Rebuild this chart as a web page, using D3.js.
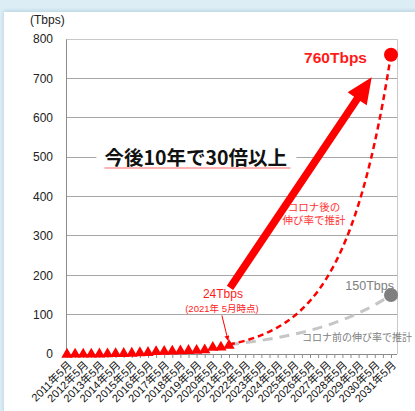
<!DOCTYPE html>
<html><head><meta charset="utf-8">
<script src="https://cdn.jsdelivr.net/npm/d3@7"></script>
<style>
html,body{margin:0;padding:0;background:#dcedf5;}
svg{display:block;font-family:"Liberation Sans","Noto Sans CJK JP",sans-serif;}
</style></head>
<body>
<svg id="c" width="415" height="411"></svg>
<script>
// ---- data ----
const periods = ["2011年5月","2011年11月","2012年5月","2012年11月","2013年5月","2013年11月","2014年5月","2014年11月",
"2015年5月","2015年11月","2016年5月","2016年11月","2017年5月","2017年11月","2018年5月","2018年11月",
"2019年5月","2019年11月","2020年5月","2020年11月","2021年5月","2021年11月","2022年5月","2022年11月",
"2023年5月","2023年11月","2024年5月","2024年11月","2025年5月","2025年11月","2026年5月","2026年11月",
"2027年5月","2027年11月","2028年5月","2028年11月","2029年5月","2029年11月","2030年5月","2030年11月","2031年5月"];
const measuredPeriods = periods.slice(0, 21);
const measured = [1.6,1.7,1.9,2.0,2.3,2.6,3.0,3.5,4.0,5.4,6.0,8.2,8.9,9.4,10.3,11.0,11.5,12.7,19.0,19.8,24];
const forecastPeriods = periods.slice(20);
const postCovid = [24,28.5,33.9,40.3,47.9,56.9,67.7,80.4,95.6,113.6,135.1,160.5,190.8,226.8,269.6,320.4,380.9,452.7,538.1,639.6,760];
const preCovid = [24,26.3,28.8,31.6,34.7,38.0,41.6,45.6,50.0,54.8,60.0,65.8,72.1,79.0,86.6,94.9,104.0,114.0,124.9,136.9,150];
const yTicks = [0,100,200,300,400,500,600,700,800];

// ---- layout ----
const svg = d3.select("#c");
const L = 66, R = 397, T = 39, B = 354;

// panel
const defs = svg.append("defs");
const f = defs.append("filter").attr("id","sh").attr("x","-5%").attr("y","-5%").attr("width","110%").attr("height","110%");
f.append("feDropShadow").attr("dx",0).attr("dy",-1).attr("stdDeviation",2).attr("flood-color","#9fc3d3").attr("flood-opacity",0.7);
svg.append("rect").attr("width",415).attr("height",411).attr("fill","#dcedf5");
svg.append("rect").attr("x",4).attr("y",12).attr("width",420).attr("height",420).attr("fill","#fff").attr("filter","url(#sh)");

const x = d3.scalePoint().domain(periods).range([67, 391]);
const y = d3.scaleLinear().domain([0, 800]).range([B, T]);

// gridlines
svg.append("g").selectAll("line").data(yTicks.filter(d => d > 0 && d < 800)).join("line")
  .attr("x1", L).attr("x2", R).attr("y1", d => y(d)).attr("y2", d => y(d))
  .attr("stroke", "#a6a6a6").attr("stroke-width", 1).attr("shape-rendering","crispEdges");
// border top/right
svg.append("path").attr("d", `M${L},${y(800)}H${R}V${B}`).attr("fill","none")
  .attr("stroke","#c8c8c8").attr("stroke-width",1).attr("shape-rendering","crispEdges");

// y axis
const yAxis = d3.axisLeft(y).tickValues(yTicks).tickSize(0).tickPadding(13);
const gy = svg.append("g").attr("transform", `translate(${L},0)`).call(yAxis);
gy.select(".domain").attr("stroke","#8c8c8c");
gy.selectAll("text").attr("font-size", 12).attr("fill","#222").attr("font-family","Liberation Sans, sans-serif");
svg.append("text").attr("x", 30).attr("y", 24).attr("font-size", 12).attr("fill","#222").text("(Tbps)");

// x axis
const xAxis = d3.axisBottom(x).tickSize(4).tickFormat(() => "");
const gx = svg.append("g").attr("transform", `translate(0,${B})`).call(xAxis);
gx.select(".domain").attr("d", `M${L},0.5H${R}`).attr("stroke","#8c8c8c");
gx.selectAll(".tick line").attr("stroke","#8c8c8c");
svg.append("g").selectAll("text").data(periods.filter(p => p.endsWith("年5月"))).join("text")
  .attr("transform", d => `translate(${x(d) + 3},${B + 9}) rotate(-45)`)
  .attr("text-anchor","end").attr("dy","0.35em")
  .attr("font-size", 11).attr("fill","#111").text(d => d);

// headline text box
const hx = x(periods[4]) + 5, hy = y(480);
const head = svg.append("g");
head.append("rect").attr("x", hx - 8).attr("y", hy - 19).attr("width", 200).attr("height", 25).attr("fill","#fff");
head.append("text").attr("x", hx).attr("y", hy).attr("font-size", 19.5).attr("font-weight","bold")
  .attr("fill","#111").attr("font-family","Noto Sans CJK JP, sans-serif").text("今後10年で30倍以上");
head.append("line").attr("x1", hx).attr("x2", hx + 186).attr("y1", hy + 3).attr("y2", hy + 3)
  .attr("stroke","#ff6b6b").attr("stroke-width",1.2);

// forecast lines
const line = d3.line().x(d => x(d[0])).y(d => y(d[1])).curve(d3.curveMonotoneX);
svg.append("path").datum(forecastPeriods.map((p,i) => [p, preCovid[i]]))
  .attr("d", line).attr("fill","none").attr("stroke","#c6c6c6").attr("stroke-width",3)
  .attr("stroke-dasharray","10,7");
svg.append("path").datum(forecastPeriods.map((p,i) => [p, postCovid[i]]))
  .attr("d", line).attr("fill","none").attr("stroke","#ff0000").attr("stroke-width",2.5)
  .attr("stroke-dasharray","6,4");

// measured triangles
svg.append("g").selectAll("path").data(measuredPeriods.map((p,i) => [p, measured[i]])).join("path")
  .attr("d", d3.symbol(d3.symbolTriangle, 56))
  .attr("transform", d => `translate(${x(d[0])},${y(d[1]) + 1})`).attr("fill","#ff0000");

// end circles
const last = periods[periods.length - 1];
svg.append("circle").attr("cx", x(last)).attr("cy", y(postCovid[20])).attr("r", 7).attr("fill","#ff0000");
svg.append("circle").attr("cx", x(last)).attr("cy", y(preCovid[20])).attr("r", 7).attr("fill","#7f7f7f");

// big arrow (data coords)
const ax0 = x(periods[20]) + 1, ay0 = y(168), ax1 = x(periods[37]) + 5, ay1 = y(703);
{
  const dx = ax1 - ax0, dy = ay1 - ay0, len = Math.hypot(dx, dy);
  const ux = dx / len, uy = dy / len, nx = -uy, ny = ux;
  const sw = 3.8, hw = 11.5, hl = 26;
  const bx = ax1 - ux * hl, by = ay1 - uy * hl;
  const pts = [
    [ax0 + nx*sw, ay0 + ny*sw], [bx + nx*sw, by + ny*sw], [bx + nx*hw, by + ny*hw], [ax1, ay1],
    [bx - nx*hw, by - ny*hw], [bx - nx*sw, by - ny*sw], [ax0 - nx*sw, ay0 - ny*sw]
  ];
  svg.append("path").attr("d", "M" + pts.map(p => p.join(",")).join("L") + "Z").attr("fill","#ff0000");
}

// labels
svg.append("text").attr("x", x(last) - 24).attr("y", y(760) + 8).attr("text-anchor","end")
  .attr("font-size", 15.5).attr("font-weight","bold").attr("fill","#ff1a1a").text("760Tbps");
svg.append("text").attr("x", x(last) + 3).attr("y", y(150) - 5).attr("text-anchor","end")
  .attr("font-size", 12.5).attr("fill","#808080").text("150Tbps");
svg.append("text").attr("x", x(periods[19]) + 2).attr("y", y(141)).attr("text-anchor","middle")
  .attr("font-size", 12).attr("fill","#ff1a1a").text("24Tbps");
svg.append("text").attr("x", x(periods[19]) + 1).attr("y", y(107)).attr("text-anchor","middle")
  .attr("font-size", 9.5).attr("fill","#ff1a1a").text("(2021年 5月時点)");
svg.append("text").attr("x", x(periods[31]) - 4).attr("y", y(364)).attr("text-anchor","middle")
  .attr("font-size", 10.5).attr("fill","#ff3333").text("コロナ後の");
svg.append("text").attr("x", x(periods[31]) - 4).attr("y", y(331)).attr("text-anchor","middle")
  .attr("font-size", 10.5).attr("fill","#ff3333").text("伸び率で推計");
svg.append("text").attr("x", x(last) + 21).attr("y", y(32)).attr("text-anchor","end")
  .attr("font-size", 10).attr("fill","#808080").text("コロナ前の伸び率で推計");

// small pointer arrow
defs.append("marker").attr("id","ah").attr("viewBox","0 0 10 10").attr("refX",9).attr("refY",5)
  .attr("markerWidth",5).attr("markerHeight",5).attr("orient","auto")
  .append("path").attr("d","M0,0L10,5L0,10Z").attr("fill","#ff0000");
svg.append("line").attr("x1", x(periods[19]) + 1).attr("y1", y(98)).attr("x2", x(periods[20]) - 1).attr("y2", y(35))
  .attr("stroke","#ff0000").attr("stroke-width",1).attr("marker-end","url(#ah)");
</script>
</body></html>
